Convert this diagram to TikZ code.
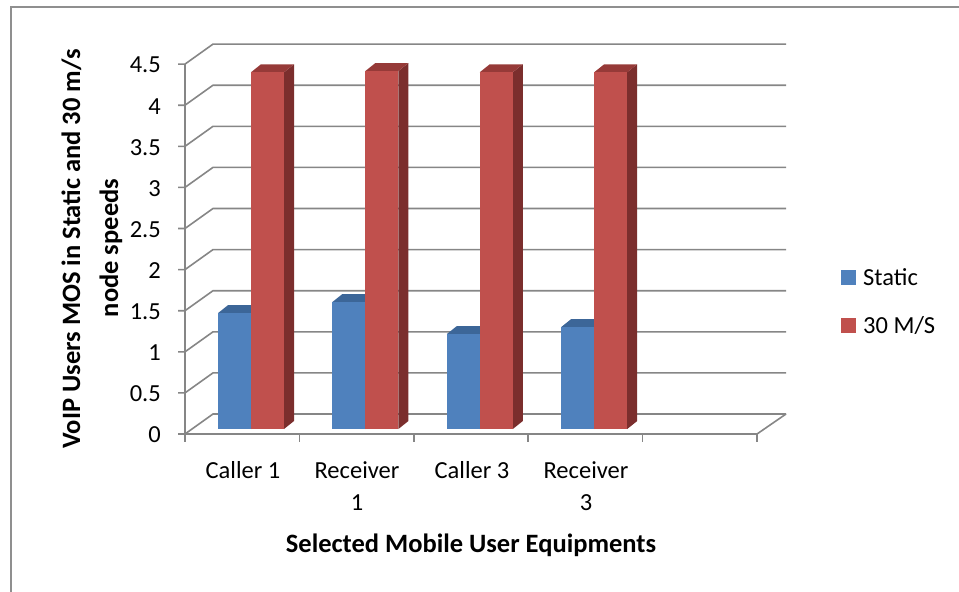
\documentclass[tikz,border=0pt]{standalone}
\usepackage{fontspec}
\setmainfont{Carlito}
\definecolor{gridgray}{HTML}{868686}
\definecolor{framegray}{HTML}{8F8F8F}
\definecolor{staticfront}{HTML}{4F81BD}
\definecolor{statictop}{HTML}{3C6698}
\definecolor{staticside}{HTML}{2F5077}
\definecolor{fastfront}{HTML}{C0504D}
\definecolor{fasttop}{HTML}{963A38}
\definecolor{fastside}{HTML}{7B2E2D}
\begin{document}
\begin{tikzpicture}[x=1pt,y=-1pt,
  gridline/.style={draw=gridgray, line width=1.6pt},
  ticklab/.style={font=\fontsize{24.5}{29}\selectfont, inner sep=0pt},
  titlelab/.style={font=\fontsize{26.5}{32}\selectfont\bfseries, inner sep=0pt},
  keybox/.style={minimum width=15pt, minimum height=15pt, inner sep=0pt}]
\useasboundingbox (0,0) rectangle (959,592);
% outer chart frame
\draw[framegray, line width=1.6pt] (959,7) -- (11,7) -- (11,592);

% walls: side-wall diagonals, back-wall lines and value ticks
\foreach \v in {0,0.5,...,4.5} {
  \pgfmathsetmacro\yf{434-82.2*\v}
  \pgfmathsetmacro\yb{414-82.2*\v}
  \draw[gridline] (178,\yf) -- (185,\yf) -- (213,\yb) -- (786,\yb);
  \node[ticklab, anchor=east] (lab\v) at (161,\yf+1) {\v};
}
% value axis and floor edge
\draw[gridline] (185,64) -- (185,434) -- (757,434) -- (786,414);
\foreach \k in {0,...,5}
  \draw[gridline] (185+114.4*\k,434) -- (185+114.4*\k,442);

% bars: static (blue) and 30 m/s (red) per category
\foreach \i/\vb/\vr in {0/1.41/4.34, 1/1.545/4.355, 2/1.155/4.34, 3/1.24/4.34} {
  \pgfmathsetmacro\xb{218+114.4*\i}
  \pgfmathsetmacro\xr{\xb+33}
  \pgfmathsetmacro\xe{\xr+33}
  \pgfmathsetmacro\tb{429-82.2*\vb}
  \pgfmathsetmacro\tr{429-82.2*\vr}
  \fill[staticside] (\xr,429) -- (\xr+10,421) -- (\xr+10,\tb-8) -- (\xr,\tb) -- cycle;
  \fill[statictop] (\xb,\tb) -- (\xr,\tb) -- (\xr+10,\tb-8) -- (\xb+10,\tb-8) -- cycle;
  \fill[staticfront] (\xb,429) rectangle (\xr,\tb);
  \fill[fastside] (\xe,429) -- (\xe+10,421) -- (\xe+10,\tr-8) -- (\xe,\tr) -- cycle;
  \fill[fasttop] (\xr,\tr) -- (\xe,\tr) -- (\xe+10,\tr-8) -- (\xr+10,\tr-8) -- cycle;
  \fill[fastfront] (\xr,429) rectangle (\xe,\tr);
}

% category labels
\node[ticklab, anchor=base] (c1) at (243,478) {Caller 1};
\node[ticklab, anchor=base] (c2) at (357,478) {Receiver};
\node[ticklab, anchor=base] (c2b) at (357,510) {1};
\node[ticklab, anchor=base] (c3) at (472,478) {Caller 3};
\node[ticklab, anchor=base] (c4) at (586,478) {Receiver};
\node[ticklab, anchor=base] (c4b) at (586,510) {3};

% axis titles
\node[titlelab, anchor=base] (xtitle) at (471,552) {Selected Mobile User Equipments};
\node[titlelab, anchor=base, rotate=90] (ytitle1) at (80,249) {VoIP Users MOS in Static and 30 m/s};
\node[titlelab, anchor=base, rotate=90] (ytitle2) at (118,248) {node speeds};

% legend
\node[keybox, fill=staticfront] (k1) at (848.5,277.5) {};
\node[ticklab, anchor=west] (k1t) at (863,277.5) {Static};
\node[keybox, fill=fastfront] (k2) at (848.5,325.5) {};
\node[ticklab, anchor=west] (k2t) at (863,325.5) {30 M/S};
\end{tikzpicture}
\end{document}
